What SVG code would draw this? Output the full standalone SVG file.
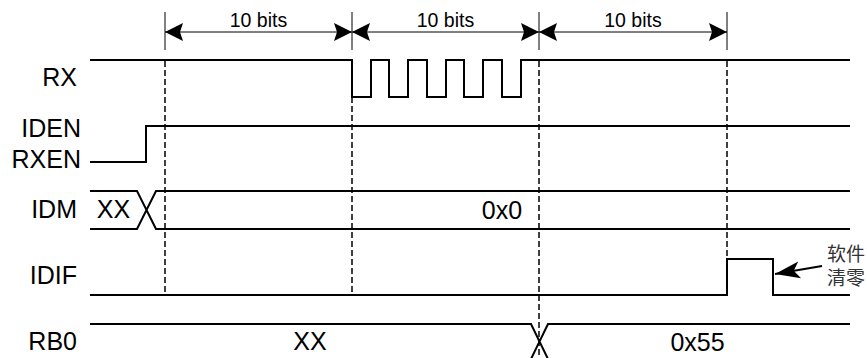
<svg xmlns="http://www.w3.org/2000/svg" width="867" height="358" viewBox="0 0 867 358">
<style>
.sig{fill:none;stroke:#000;stroke-width:2;stroke-linejoin:miter}
.guide{fill:none;stroke:#000;stroke-width:1.5;stroke-dasharray:6 3}
.tick{fill:none;stroke:#000;stroke-width:1}
.dim{fill:none;stroke:#000;stroke-width:1}
.lbl{font-family:"Liberation Sans",Arial,sans-serif;font-size:25px;fill:#000}
.dimt{font-family:"Liberation Sans",Arial,sans-serif;font-size:19.5px;fill:#000;text-anchor:middle}
.cn{font-family:"Liberation Sans","Noto Sans CJK SC",sans-serif;font-size:19px;fill:#333}
</style>
<defs>
<marker id="dimArrow" viewBox="-19 -10 20 20" refX="0" refY="0" markerWidth="20" markerHeight="20" markerUnits="userSpaceOnUse" orient="auto-start-reverse">
<path d="M0,0 L-18,-9 L-15,0 L-18,9 Z" fill="#000"/>
</marker>
<marker id="ptrArrow" viewBox="-26 -10 27 20" refX="0" refY="0" markerWidth="27" markerHeight="20" markerUnits="userSpaceOnUse" orient="auto">
<path d="M0,0 L-25,-8.5 L-19,0 L-25,8.5 Z" fill="#000"/>
</marker>
</defs>
<g id="guides">
<path class="tick" d="M165,12 V50 M352,12 V50 M539,12 V50 M727,12 V50"/>
<path class="guide" d="M165,61 V295 M352,61 V295 M539,61 V358 M727,61 V259"/>
</g>
<g id="connectors">
<line class="dim" x1="165" y1="32" x2="352" y2="32" marker-start="url(#dimArrow)" marker-end="url(#dimArrow)"/>
<line class="dim" x1="352" y1="32" x2="539" y2="32" marker-start="url(#dimArrow)" marker-end="url(#dimArrow)"/>
<line class="dim" x1="539" y1="32" x2="727" y2="32" marker-start="url(#dimArrow)" marker-end="url(#dimArrow)"/>
<line x1="822" y1="266" x2="775" y2="274" stroke="#000" stroke-width="2" marker-end="url(#ptrArrow)"/>
</g>
<g id="dim-labels">
<text class="dimt" x="258.5" y="27">10 bits</text>
<text class="dimt" x="445.5" y="27">10 bits</text>
<text class="dimt" x="633" y="27">10 bits</text>
</g>
<g id="RX">
<text class="lbl" x="77" y="86" text-anchor="end">RX</text>
<path class="sig" d="M90,60 H352 V97 H371 V60 H389 V97 H408 V60 H427 V97 H446 V60 H464 V97 H483 V60 H502 V97 H521 V60 H850"/>
</g>
<g id="IDEN">
<text class="lbl" x="81" y="137" text-anchor="end">IDEN</text>
<text class="lbl" x="81" y="168" text-anchor="end">RXEN</text>
<path class="sig" d="M90,162 H146 V126 H850"/>
</g>
<g id="IDM">
<text class="lbl" x="77" y="218" text-anchor="end">IDM</text>
<path class="sig" d="M90,191 H137 L156,229 H850 M90,229 H137 L156,191 H850"/>
<text class="lbl" x="113.5" y="218" text-anchor="middle">XX</text>
<text class="lbl" x="502" y="219" text-anchor="middle">0x0</text>
</g>
<g id="IDIF">
<text class="lbl" x="77" y="284" text-anchor="end">IDIF</text>
<path class="sig" d="M90,295 H727 V259 H773 V295 H850"/>
<text class="cn" x="827" y="261">软件</text>
<text class="cn" x="827" y="285">清零</text>
</g>
<g id="RB0">
<text class="lbl" x="77" y="350" text-anchor="end">RB0</text>
<path class="sig" d="M90,324 H531 L548,359 M850,324 H548 L531,359"/>
<text class="lbl" x="310" y="350" text-anchor="middle">XX</text>
<text class="lbl" x="697.5" y="351" text-anchor="middle">0x55</text>
</g>
</svg>
